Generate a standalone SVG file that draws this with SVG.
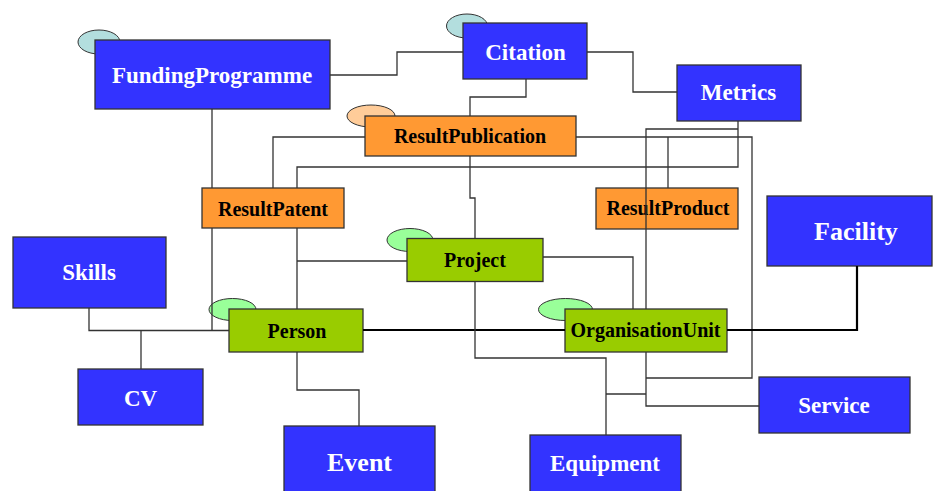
<svg xmlns="http://www.w3.org/2000/svg" width="935" height="491" viewBox="0 0 935 491">
<style>
.bx{stroke:#333;stroke-width:1.3}
.blue{fill:#3333FF}
.org{fill:#FF9933}
.grn{fill:#99CC00}
.e1{fill:#B3DEDE;stroke:#333;stroke-width:1}
.e2{fill:#FFCC99;stroke:#333;stroke-width:1}
.e3{fill:#99FF99;stroke:#333;stroke-width:1}
text{font-family:"Liberation Serif","Times New Roman",serif;font-weight:bold;text-anchor:middle}
.w{fill:#fff;font-size:23px}
.wl{fill:#fff;font-size:26px}
.k{fill:#000;font-size:20px}
.ln{fill:none;stroke:#333;stroke-width:1.3}
.th{fill:none;stroke:#000;stroke-width:2.2}
</style>
<rect width="935" height="491" fill="#fff"/>
<g id="FundingProgramme"><ellipse class="e1" cx="99" cy="42" rx="21" ry="12"/><rect class="bx blue" x="95" y="40" width="235" height="69"/><text class="w" x="212" y="83">FundingProgramme</text></g>
<g id="Citation"><ellipse class="e1" cx="467" cy="26" rx="20.5" ry="12"/><rect class="bx blue" x="463" y="23" width="124" height="56"/><text class="w" x="525.5" y="60">Citation</text></g>
<g id="Metrics"><rect class="bx blue" x="677" y="65" width="124" height="56"/><text class="w" x="738.5" y="100">Metrics</text></g>
<g id="ResultPublication"><ellipse class="e2" cx="371" cy="116" rx="24" ry="11"/><rect class="bx org" x="365" y="116" width="211" height="40"/><text class="k" x="470" y="143">ResultPublication</text></g>
<g id="ResultPatent"><rect class="bx org" x="202" y="188" width="142" height="40"/><text class="k" x="273" y="216">ResultPatent</text></g>
<g id="ResultProduct"><rect class="bx org" x="596" y="188" width="142" height="41"/><text class="k" x="668" y="215">ResultProduct</text></g>
<g id="Facility"><rect class="bx blue" x="767" y="196" width="165" height="70"/><text class="wl" x="856" y="240">Facility</text></g>
<g id="Skills"><rect class="bx blue" x="13" y="237" width="153" height="71"/><text class="w" x="89" y="280">Skills</text></g>
<g id="Project"><ellipse class="e3" cx="410" cy="240" rx="23" ry="11.5"/><rect class="bx grn" x="407" y="238.5" width="136" height="43"/><text class="k" x="475" y="267">Project</text></g>
<g id="Person"><ellipse class="e3" cx="232.5" cy="309.5" rx="23.5" ry="11"/><rect class="bx grn" x="229" y="309" width="134" height="43"/><text class="k" x="297" y="338">Person</text></g>
<g id="OrganisationUnit"><ellipse class="e3" cx="565.5" cy="309.5" rx="27" ry="11"/><rect class="bx grn" x="565" y="309" width="162" height="43"/><text class="k" x="645.5" y="337">OrganisationUnit</text></g>
<g id="CV"><rect class="bx blue" x="78" y="369" width="125" height="56"/><text class="w" x="140.5" y="405.5">CV</text></g>
<g id="Event"><rect class="bx blue" x="284" y="426" width="151" height="75"/><text class="wl" x="359.5" y="471">Event</text></g>
<g id="Equipment"><rect class="bx blue" x="530" y="435" width="151" height="66"/><text class="w" x="605" y="471">Equipment</text></g>
<g id="Service"><rect class="bx blue" x="759" y="377" width="151" height="56"/><text class="w" x="834" y="413">Service</text></g>
<g id="connectors">
<path class="ln" d="M330,75 H397 V52 H463"/>
<path class="ln" d="M587,52 H633 V92 H677"/>
<path class="ln" d="M526,79 V97 H470 V116"/>
<path class="ln" d="M365,137 H273 V188"/>
<path class="ln" d="M738,121 V167 H297 V188 M297,228 V309"/>
<path class="ln" d="M297,261 H407"/>
<path class="ln" d="M470,156 V198 H475 V238.5"/>
<path class="ln" d="M738,129 H646 V309"/>
<path class="ln" d="M576,137 H752 V378 H646"/>
<path class="ln" d="M668,137 V188"/>
<path class="ln" d="M212,109 V188 M212,228 V330.5"/>
<path class="ln" d="M89,308 V330.5 H229"/>
<path class="ln" d="M141,330.5 V369"/>
<path class="ln" d="M297,352 V390 H359 V426"/>
<path class="th" d="M363,330 H565"/>
<path class="th" d="M727,330 H857 V266"/>
<path class="ln" d="M543,257 H633 V309"/>
<path class="ln" d="M475,281.5 V358 H606 V435"/>
<path class="ln" d="M646,352 V406 H759"/>
<path class="ln" d="M606,394 H646"/>
</g>
</svg>
